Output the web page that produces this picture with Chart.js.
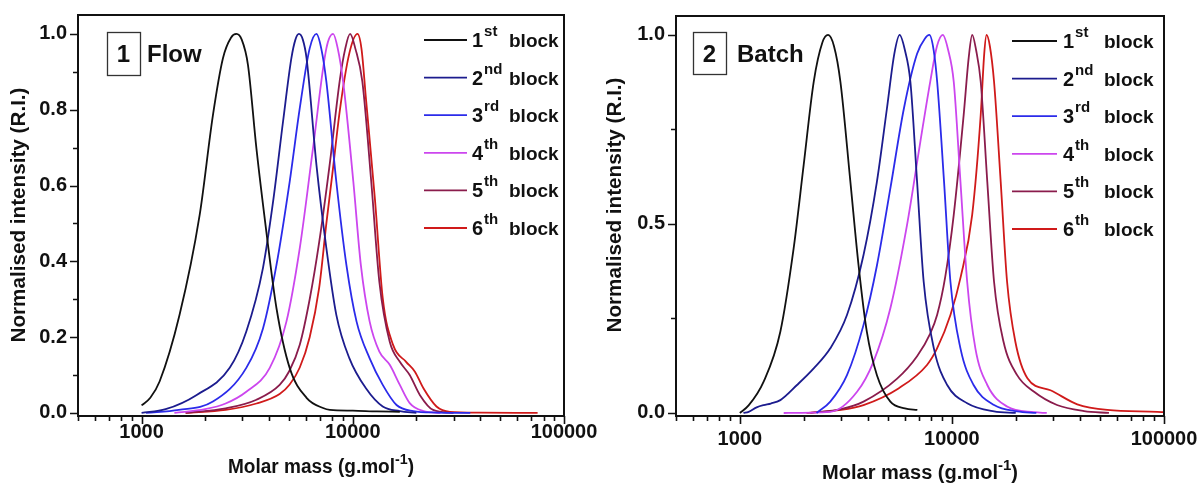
<!DOCTYPE html>
<html>
<head>
<meta charset="utf-8">
<script src="https://cdn.jsdelivr.net/npm/chart.js@4.4.1/dist/chart.umd.min.js"></script>
<style>
  html, body { margin: 0; padding: 0; background: #fff; }
  #wrap { position: relative; width: 1198px; height: 486px; overflow: hidden; }
  .panel { position: absolute; top: 0; height: 486px; }
</style>
</head>
<body>
<div id="wrap">
  <div class="panel" style="left:0;width:600px"><canvas id="flowChart" width="600" height="486"></canvas></div>
  <div class="panel" style="left:600px;width:598px"><canvas id="batchChart" width="598" height="486"></canvas></div>
</div>
<script>
// legend text: number + superscript ordinal
const blockNum = ['1', '2', '3', '4', '5', '6'];
const blockSup = ['st', 'nd', 'rd', 'th', 'th', 'th'];

// x axis (molar mass, log)
const massTicks = [500, 600, 700, 800, 900, 1000, 2000, 3000, 4000, 5000, 6000, 7000, 8000, 9000,
                   10000, 20000, 30000, 40000, 50000, 60000, 70000, 80000, 90000, 100000];
const massLabels = [1000, 10000, 100000];

// y axis ticks
const flowIntTicks = [0, 0.1, 0.2, 0.3, 0.4, 0.5, 0.6, 0.7, 0.8, 0.9, 1.0];
const flowIntLabels = [0, 0.2, 0.4, 0.6, 0.8, 1.0];
const batchIntTicks = [0, 0.25, 0.5, 0.75, 1.0];
const batchIntLabels = [0, 0.5, 1.0];

// panel 1 - flow, [molar mass, normalised intensity]
const flow1 = [[1000,0.02],[1100,0.04],[1217,0.083],[1513,0.259],[1883,0.522],[2177,0.786],[2428,0.936],
  [2650,0.99],[2810,1.0],[2980,0.985],[3190,0.918],[3497,0.698],[3898,0.478],[4350,0.277],[5025,0.119],
  [6040,0.04],[7230,0.013],[7790,0.008],[10000,0.006],[13000,0.004],[16700,0.003]];
const flow2 = [[1000,0],[1300,0.01],[1816,0.047],[2614,0.119],[3132,0.215],[3757,0.383],[4195,0.558],
  [4675,0.769],[5120,0.936],[5350,0.985],[5560,1.0],[5800,0.985],[6040,0.936],[6730,0.654],[7497,0.435],
  [8356,0.259],[9640,0.144],[11540,0.065],[13860,0.017],[16700,0.005],[20000,0]];
const flow3 = [[1050,0],[1500,0.008],[2177,0.03],[3132,0.119],[3757,0.223],[4350,0.39],[5025,0.61],
  [5610,0.804],[6250,0.962],[6730,1.0],[7100,0.96],[7497,0.874],[8356,0.61],[9330,0.39],[10420,0.241],
  [12020,0.144],[13860,0.074],[16110,0.021],[19320,0.005],[25000,0.001],[36000,0]];
const flow4 = [[1430,0],[2000,0.01],[2500,0.025],[3132,0.056],[4045,0.119],[4850,0.241],[5610,0.435],
  [6480,0.698],[7497,0.962],[8070,1.0],[8500,0.96],[9000,0.874],[10060,0.61],[10920,0.39],[12020,0.241],
  [13360,0.162],[14960,0.127],[16700,0.074],[18600,0.026],[21600,0.005],[26000,0]];
const flow5 = [[1616,0],[2500,0.012],[3500,0.035],[4505,0.074],[5000,0.11],[5610,0.18],[6250,0.3],
  [6930,0.45],[7790,0.66],[8690,0.88],[9200,0.96],[9710,1.0],[10300,0.96],[11100,0.874],[12230,0.61],
  [13360,0.346],[14960,0.188],[16700,0.135],[18600,0.1],[20800,0.047],[24000,0.008],[30000,0]];
const flow6 = [[1616,0],[2500,0.008],[3500,0.025],[4505,0.05],[5025,0.075],[5610,0.12],[6250,0.2],
  [6930,0.33],[7497,0.5],[8000,0.63],[8690,0.8],[9640,0.95],[10530,1.0],[11000,0.96],[11540,0.83],
  [12720,0.566],[13860,0.303],[15530,0.179],[17880,0.135],[19690,0.109],[21600,0.065],[24900,0.017],
  [28800,0.003],[40000,0.001],[75000,0]];

// panel 2 - batch
const batch1 = [[1000,0],[1100,0.02],[1295,0.083],[1552,0.215],[1794,0.436],[2000,0.656],[2230,0.876],
  [2450,0.98],[2607,1.0],[2780,0.97],[2980,0.876],[3320,0.612],[3630,0.39],[3970,0.215],[4430,0.1],
  [5125,0.03],[6000,0.012],[6870,0.008]];
const batch2 = [[1040,0],[1100,0.003],[1200,0.015],[1295,0.021],[1400,0.025],[1552,0.034],[1860,0.074],
  [2230,0.118],[2670,0.171],[3200,0.259],[3830,0.418],[4430,0.612],[4940,0.806],[5350,0.95],[5670,1.0],
  [6000,0.96],[6370,0.876],[6850,0.612],[7360,0.347],[8220,0.171],[9500,0.074],[11800,0.026],
  [15800,0.004],[20000,0]];
const batch3 = [[2300,0],[2670,0.03],[3200,0.1],[3830,0.233],[4430,0.39],[5125,0.594],[5940,0.806],
  [6850,0.95],[7450,0.99],[7830,1.0],[8200,0.96],[8520,0.876],[9180,0.612],[9840,0.347],[10970,0.171],
  [12650,0.074],[15800,0.021],[20300,0.004],[25000,0]];
const batch4 = [[1610,0],[2670,0.003],[3570,0.056],[4270,0.136],[5125,0.277],[6140,0.497],[7100,0.718],
  [7900,0.876],[8500,0.97],[9060,1.0],[9600,0.96],[10200,0.876],[10970,0.612],[11800,0.347],
  [12900,0.171],[14680,0.074],[18200,0.017],[24400,0.002],[28000,0]];
const batch5 = [[2150,0],[3000,0.01],[3830,0.03],[5500,0.09],[6850,0.15],[7900,0.21],[8520,0.26],
  [9300,0.36],[10200,0.524],[11360,0.788],[12000,0.94],[12460,1.0],[13000,0.96],[13670,0.876],
  [14680,0.612],[15800,0.347],[17500,0.189],[20300,0.1],[24400,0.056],[31300,0.021],[42000,0.005],[55000,0]];
const batch6 = [[2060,0],[3000,0.008],[3830,0.021],[5600,0.065],[7630,0.127],[8500,0.17],[9840,0.259],
  [11000,0.36],[12460,0.524],[13670,0.788],[14200,0.95],[14560,1.0],[15100,0.97],[15800,0.876],
  [16980,0.612],[18200,0.347],[19900,0.189],[22700,0.092],[29150,0.06],[39000,0.023],[54000,0.008],
  [93000,0.003],[100000,0.002]];

const lineColors = ['#111111', '#1c1c8e', '#2b2bea', '#cc46ee', '#8a1c4c', '#d01a1a'];
const FONT = '"Liberation Sans", Arial, sans-serif';

// draws text made of parts (normal + superscript), squeezed to a target width
function drawParts(ctx, parts, target) {
  let w = 0;
  parts.forEach(p => { ctx.font = p.font; p.w = ctx.measureText(p.text).width; w += p.w; });
  const s = target ? target / w : 1;
  ctx.scale(s, 1);
  let x = -w / 2;
  parts.forEach(p => { ctx.font = p.font; ctx.fillText(p.text, x, p.dy || 0); x += p.w; });
}

const decor = {
  id: 'decor',
  afterDraw(chart, args, o) {
    const ctx = chart.ctx, a = chart.chartArea;
    const xs = chart.scales.x, ys = chart.scales.y;
    ctx.save();
    ctx.strokeStyle = '#111';
    ctx.fillStyle = '#111';

    // frame
    ctx.lineWidth = 2;
    ctx.strokeRect(a.left, a.top, a.right - a.left, a.bottom - a.top);

    // outward tick marks
    ctx.lineWidth = 1.6;
    ctx.beginPath();
    xs.ticks.forEach(t => {
      const px = Math.round(xs.getPixelForValue(t.value)) + 0.5;
      const len = massLabels.includes(t.value) ? 8 : 5;
      ctx.moveTo(px, a.bottom);
      ctx.lineTo(px, a.bottom + len);
    });
    ys.ticks.forEach(t => {
      const py = Math.round(ys.getPixelForValue(t.value)) + 0.5;
      const len = o.yLabels.includes(t.value) ? 8 : 5;
      ctx.moveTo(a.left, py);
      ctx.lineTo(a.left - len, py);
    });
    ctx.stroke();

    // panel label
    ctx.lineWidth = 1.3;
    ctx.strokeStyle = '#333';
    ctx.strokeRect(o.box[0] + 0.5, o.box[1] + 0.5, o.box[2], o.box[3]);
    ctx.font = 'bold 24px ' + FONT;
    ctx.textAlign = 'center';
    ctx.textBaseline = 'alphabetic';
    ctx.fillText(o.panelNum, o.box[0] + o.box[2] / 2, 62);
    ctx.textAlign = 'left';
    ctx.fillText(o.panelName, o.nameX, 62);

    // legend
    chart.data.datasets.forEach((ds, i) => {
      const y = o.legY + i * o.legDY;
      ctx.strokeStyle = ds.borderColor;
      ctx.lineWidth = 1.8;
      ctx.beginPath();
      ctx.moveTo(o.legX0, y);
      ctx.lineTo(o.legX1, y);
      ctx.stroke();
      ctx.textAlign = 'left';
      ctx.font = 'bold 20px ' + FONT;
      ctx.fillText(blockNum[i], o.numX, y + 7);
      const nw = ctx.measureText(blockNum[i]).width;
      ctx.font = 'bold 15px ' + FONT;
      ctx.fillText(blockSup[i], o.numX + nw + 1, y - 4);
      ctx.font = 'bold 19px ' + FONT;
      ctx.fillText('block', o.blockX, y + 7);
    });

    // y axis title
    ctx.save();
    ctx.translate(o.yTitleX, o.yTitleY);
    ctx.rotate(-Math.PI / 2);
    ctx.textAlign = 'left';
    drawParts(ctx, [{ text: 'Normalised intensity (R.I.)', font: 'bold 20px ' + FONT }], 255);
    ctx.restore();

    // x axis title
    ctx.save();
    ctx.translate((a.left + a.right) / 2, o.xTitleY);
    ctx.textAlign = 'left';
    drawParts(ctx, [
      { text: 'Molar mass (g.mol', font: 'bold 20px ' + FONT },
      { text: '-1', font: 'bold 15px ' + FONT, dy: -9 },
      { text: ')', font: 'bold 20px ' + FONT }
    ], o.xTitleW);
    ctx.restore();

    ctx.restore();
  }
};

function makePanel(id, curves, cfg) {
  const datasets = curves.map((c, i) => ({
    label: blockNum[i] + blockSup[i] + ' block',
    data: c.map(p => ({ x: p[0], y: p[1] })),
    borderColor: lineColors[i],
    borderWidth: 1.8,
    pointRadius: 0,
    fill: false,
    cubicInterpolationMode: 'monotone'
  }));

  return new Chart(document.getElementById(id).getContext('2d'), {
    type: 'line',
    data: { datasets: datasets },
    options: {
      responsive: false,
      animation: false,
      devicePixelRatio: 1,
      events: [],
      layout: { padding: { left: 0, right: cfg.padRight, top: cfg.padTop, bottom: 0 } },
      plugins: {
        legend: { display: false },
        tooltip: { enabled: false },
        decor: cfg.decor
      },
      scales: {
        x: {
          type: 'logarithmic',
          min: 500,
          max: 100000,
          afterBuildTicks: s => { s.ticks = massTicks.map(v => ({ value: v })); },
          afterFit: s => { s.height = 486 - 416; s.paddingLeft = 0; s.paddingRight = 0; },
          grid: { display: false, drawTicks: false },
          border: { display: false },
          ticks: {
            autoSkip: false,
            maxRotation: 0,
            padding: cfg.xPad,
            color: '#111',
            font: { family: FONT, size: 20, weight: 'bold' },
            callback: v => massLabels.includes(v) ? String(v) : ''
          }
        },
        y: {
          type: 'linear',
          min: -0.008,
          max: 1.05,
          afterBuildTicks: s => { s.ticks = cfg.yTicks.map(v => ({ value: v })); },
          afterFit: s => { s.width = cfg.yWidth; s.paddingTop = 0; s.paddingBottom = 0; },
          grid: { display: false, drawTicks: false },
          border: { display: false },
          ticks: {
            padding: 11,
            color: '#111',
            font: { family: FONT, size: 20, weight: 'bold' },
            callback: v => cfg.yLabels.includes(v) ? v.toFixed(1) : ''
          }
        }
      }
    },
    plugins: [decor]
  });
}

makePanel('flowChart', [flow1, flow2, flow3, flow4, flow5, flow6], {
  padRight: 36, padTop: 15, yWidth: 78, xPad: 4,
  yTicks: flowIntTicks, yLabels: flowIntLabels,
  decor: {
    yLabels: flowIntLabels,
    box: [107, 32, 33, 43], panelNum: '1', panelName: 'Flow', nameX: 147,
    legY: 40, legDY: 37.6, legX0: 424, legX1: 467, numX: 472, blockX: 509,
    yTitleX: 25, yTitleY: 215, xTitleY: 473, xTitleW: 186
  }
});

makePanel('batchChart', [batch1, batch2, batch3, batch4, batch5, batch6], {
  padRight: 34, padTop: 16, yWidth: 76, xPad: 11,
  yTicks: batchIntTicks, yLabels: batchIntLabels,
  decor: {
    yLabels: batchIntLabels,
    box: [93, 32, 33, 42], panelNum: '2', panelName: 'Batch', nameX: 137,
    legY: 41, legDY: 37.6, legX0: 412, legX1: 457, numX: 463, blockX: 504,
    yTitleX: 21, yTitleY: 205, xTitleY: 479, xTitleW: 196
  }
});
</script>
</body>
</html>
